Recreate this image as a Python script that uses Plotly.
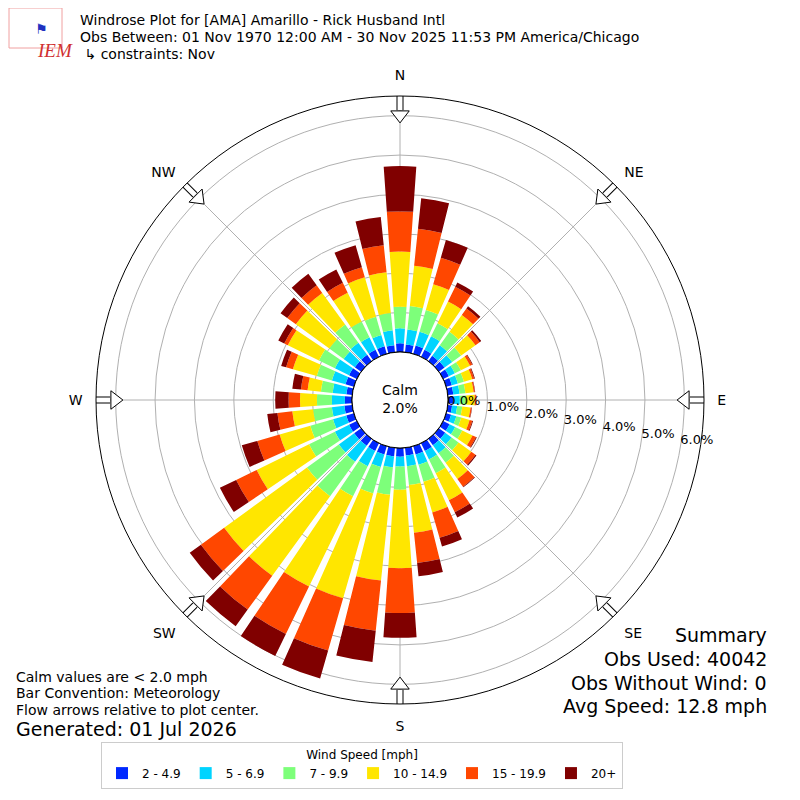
import plotly.graph_objects as go

# wind direction bins (deg, met convention) and percent frequency per speed bin
directions = [0, 10, 20, 30, 40, 50, 60, 70, 80, 90, 100, 110, 120, 130, 140, 150, 160, 170,
              180, 190, 200, 210, 220, 230, 240, 250, 260, 270, 280, 290, 300, 310, 320, 330, 340, 350]

spd_2_5 = [0.22, 0.20, 0.22, 0.20, 0.17, 0.18, 0.16, 0.15, 0.14, 0.14, 0.11, 0.13, 0.18, 0.20, 0.20, 0.22, 0.22, 0.20,
           0.22, 0.22, 0.22, 0.22, 0.22, 0.22, 0.22, 0.20, 0.20, 0.18, 0.15, 0.22, 0.22, 0.20, 0.20, 0.20, 0.20, 0.18]
spd_5_7 = [0.38, 0.38, 0.36, 0.38, 0.33, 0.24, 0.17, 0.16, 0.16, 0.16, 0.13, 0.14, 0.16, 0.20, 0.25, 0.24, 0.27, 0.27,
           0.25, 0.28, 0.33, 0.43, 0.50, 0.48, 0.40, 0.35, 0.32, 0.33, 0.35, 0.36, 0.40, 0.35, 0.38, 0.35, 0.30, 0.38]
spd_7_10 = [0.55, 0.60, 0.58, 0.37, 0.42, 0.28, 0.17, 0.16, 0.15, 0.16, 0.13, 0.13, 0.20, 0.22, 0.30, 0.39, 0.45, 0.48,
            0.59, 0.70, 0.70, 0.85, 1.08, 1.00, 0.73, 0.60, 0.48, 0.38, 0.30, 0.40, 0.45, 0.45, 0.57, 0.45, 0.48, 0.44]
spd_10_15 = [1.40, 1.03, 0.68, 0.61, 0.53, 0.45, 0.26, 0.22, 0.21, 0.22, 0.21, 0.22, 0.29, 0.40, 0.51, 0.76, 0.81, 1.22,
             1.99, 2.19, 2.77, 2.55, 2.50, 2.60, 1.48, 0.81, 0.53, 0.43, 0.34, 0.63, 0.88, 1.05, 0.99, 0.81, 1.04, 1.04]
spd_15_20 = [1.02, 0.94, 0.70, 0.42, 0.20, 0.13, 0.06, 0.05, 0.03, 0.03, 0.03, 0.07, 0.10, 0.13, 0.24, 0.34, 0.67, 0.77,
             1.14, 1.28, 1.38, 1.34, 1.06, 0.73, 0.58, 0.59, 0.38, 0.29, 0.17, 0.18, 0.10, 0.27, 0.24, 0.28, 0.27, 0.69]
spd_20p = [1.15, 0.78, 0.47, 0.12, 0.07, 0.05, 0.02, 0.02, 0.01, 0.01, 0.01, 0.02, 0.02, 0.03, 0.02, 0.15, 0.23, 0.34,
           0.63, 0.80, 0.74, 0.62, 0.52, 0.35, 0.46, 0.41, 0.26, 0.34, 0.22, 0.13, 0.17, 0.21, 0.36, 0.38, 0.58, 0.72]

bin_labels = ["2 - 4.9", "5 - 6.9", "7 - 9.9", "10 - 14.9", "15 - 19.9", "20+"]
bin_colors = ["#0028ff", "#00d4ff", "#7dff7a", "#ffe600", "#ff4700", "#800000"]

ring_vals = [0, 1, 2, 3, 4, 5, 6]
ring_text = ["0.0%", "1.0%", "2.0%", "3.0%", "4.0%", "5.0%", "6.0%"]
compass_deg = [0, 45, 90, 135, 180, 225, 270, 315]
compass_txt = ["N", "NE", "E", "SE", "S", "SW", "W", "NW"]

FONT = "DejaVu Sans"


# page has an 8px body margin; convert page pixels to paper coords
def X(px):
    return (px - 8) / 800.0


def Y(py):
    return 1 - (py - 8) / 800.0


fig = go.Figure()
for vals, lab, col in zip([spd_2_5, spd_5_7, spd_7_10, spd_10_15, spd_15_20, spd_20p], bin_labels, bin_colors):
    fig.add_trace(go.Barpolar(r=vals, theta=directions, width=8, name=lab,
                              marker=dict(color=col, line=dict(width=0))))

# black edge of the calm hole
hole_theta = list(range(0, 362, 2))
fig.add_trace(go.Scatterpolar(r=[0] * len(hole_theta), theta=hole_theta, mode="lines",
                              line=dict(color="black", width=1), showlegend=False, hoverinfo="skip"))

# flow arrows on the compass points
shaft_r, shaft_t = [], []
for d in compass_deg:
    shaft_r += [6.5, 6.14, None]
    shaft_t += [d, d, None]
fig.add_trace(go.Scatterpolar(r=shaft_r, theta=shaft_t, mode="lines", line=dict(color="black", width=7),
                              showlegend=False, hoverinfo="skip", cliponaxis=False))
fig.add_trace(go.Scatterpolar(r=shaft_r, theta=shaft_t, mode="lines", line=dict(color="white", width=5),
                              showlegend=False, hoverinfo="skip", cliponaxis=False))
fig.add_trace(go.Scatterpolar(r=[6.02] * len(compass_deg), theta=compass_deg, mode="markers",
                              marker=dict(symbol="triangle-up", size=16, color="white",
                                          angle=[d + 180 for d in compass_deg],
                                          line=dict(color="black", width=1)),
                              showlegend=False, hoverinfo="skip", cliponaxis=False))

# ring labels
fig.add_trace(go.Scatterpolar(r=ring_vals, theta=[99.6] * len(ring_vals), mode="text", text=ring_text,
                              textposition="top right", textfont=dict(family=FONT, size=13, color="black"),
                              showlegend=False, hoverinfo="skip", cliponaxis=False))

fig.update_layout(
    width=800, height=800,
    margin=dict(l=0, r=0, t=0, b=0),
    paper_bgcolor="white",
    font=dict(family=FONT, size=13, color="black"),
    polar=dict(
        domain=dict(x=[X(96), X(704)], y=[Y(704), Y(96)]),
        hole=0.158,
        bgcolor="white",
        barmode="stack",
        angularaxis=dict(rotation=90, direction="clockwise", tickvals=compass_deg, ticktext=compass_txt,
                         showticklabels=True, ticks="outside", ticklen=10, tickcolor="rgba(0,0,0,0)",
                         tickfont=dict(family=FONT, size=14, color="black"),
                         gridcolor="#b0b0b0", gridwidth=1,
                         showline=True, linecolor="black", linewidth=1, layer="above traces"),
        radialaxis=dict(range=[0, 6.5], tickvals=ring_vals, showticklabels=False, ticks="",
                        gridcolor="#b0b0b0", gridwidth=1, showline=False, layer="above traces"),
    ),
    legend=dict(orientation="h", x=X(362), xanchor="center", y=Y(742), yanchor="top",
                title=dict(text="Wind Speed [mph]", side="top center", font=dict(size=12)),
                bordercolor="#cccccc", borderwidth=1, font=dict(size=12), itemwidth=30),
)

ann = [
    dict(text="Windrose Plot for [AMA] Amarillo - Rick Husband Intl", x=78, y=20, size=14),
    dict(text="Obs Between: 01 Nov 1970 12:00 AM - 30 Nov 2025 11:53 PM America/Chicago", x=78, y=37, size=14),
    dict(text=" ↳ constraints: Nov", x=78, y=54, size=14),
    dict(text="Calm values are < 2.0 mph", x=14, y=677, size=14),
    dict(text="Bar Convention: Meteorology", x=14, y=693, size=14),
    dict(text="Flow arrows relative to plot center.", x=14, y=710, size=14),
    dict(text="Generated: 01 Jul 2026", x=14, y=729, size=19),
    dict(text="Summary", x=769, y=635, size=19, anchor="right"),
    dict(text="Obs Used: 40042", x=769, y=659, size=19, anchor="right"),
    dict(text="Obs Without Wind: 0", x=769, y=683, size=19, anchor="right"),
    dict(text="Avg Speed: 12.8 mph", x=769, y=706, size=19, anchor="right"),
]
for a in ann:
    fig.add_annotation(text=a["text"], x=X(a["x"]), y=Y(a["y"]), xref="paper", yref="paper",
                       xanchor=a.get("anchor", "left"), yanchor="middle", showarrow=False,
                       font=dict(family=FONT, size=a.get("size", 13), color="black"))

fig.add_annotation(text="Calm<br>2.0%", x=X(400), y=Y(399), xref="paper", yref="paper", showarrow=False,
                   font=dict(family=FONT, size=14, color="black"), yanchor="middle")

# IEM logo stand-in
fig.add_shape(type="rect", x0=X(9), x1=X(62), y0=Y(48), y1=Y(8), xref="paper", yref="paper",
              line=dict(color="#f0a0a0", width=1))
fig.add_annotation(text="<i>IEM</i>", x=X(35), y=Y(38), xref="paper", yref="paper", showarrow=False,
                   font=dict(family="Liberation Serif", size=19, color="#d03030"))
fig.add_annotation(text="⚑", x=X(33), y=Y(19), xref="paper", yref="paper", showarrow=False,
                   font=dict(family=FONT, size=14, color="#2030c0"))

fig.write_html("out.html")
